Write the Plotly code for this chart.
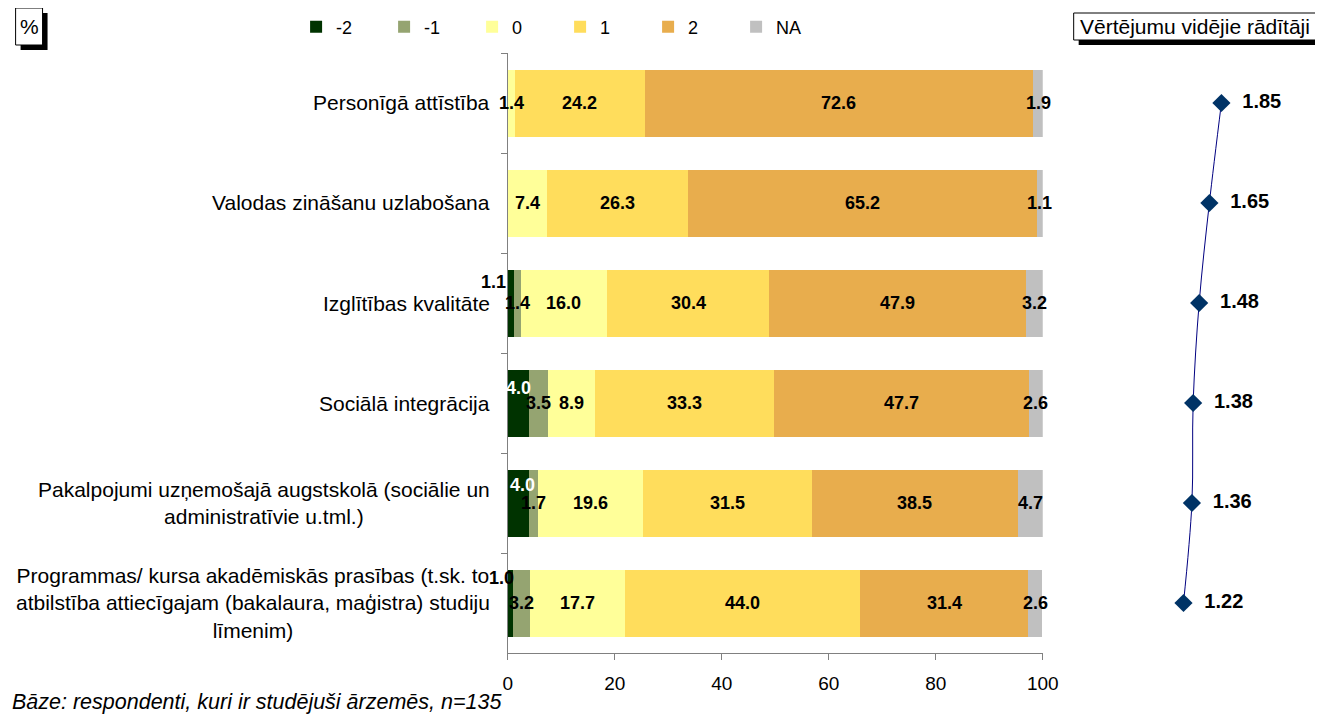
import plotly.graph_objects as go

# Layout helpers: target pixel positions (as seen in the 1323x714 picture) are converted to
# page positions (the capture compresses x slightly), then to paper fractions of the figure,
# which sits inside the page's default 8px body margin.
OFF = 8
SX, AX = 0.986, 3.5
W, H = 1330, 706


def px(t):
    return ((t - AX) / SX - OFF) / W


def py(t):
    return 1 - (t - OFF) / H


categories = [
    "Personīgā attīstība",
    "Valodas zināšanu uzlabošana",
    "Izglītības kvalitāte",
    "Sociālā integrācija",
    "Pakalpojumi uzņemošajā augstskolā (sociālie un<br>administratīvie u.tml.)",
    "Programmas/ kursa akadēmiskās prasības (t.sk. to<br>atbilstība attiecīgajam (bakalaura, maģistra) studiju<br>līmenim)",
]
series_names = ["-2", "-1", "0", "1", "2", "NA"]
v_m2 = [0.0, 0.0, 1.1, 4.0, 4.0, 1.0]
v_m1 = [0.0, 0.0, 1.4, 3.5, 1.7, 3.2]
v_0 = [1.4, 7.4, 16.0, 8.9, 19.6, 17.7]
v_1 = [24.2, 26.3, 30.4, 33.3, 31.5, 44.0]
v_2 = [72.6, 65.2, 47.9, 47.7, 38.5, 31.4]
v_na = [1.9, 1.1, 3.2, 2.6, 4.7, 2.6]
means = [1.85, 1.65, 1.48, 1.38, 1.36, 1.22]
x_ticks = [0, 20, 40, 60, 80, 100]

series_values = [v_m2, v_m1, v_0, v_1, v_2, v_na]
colors = ["#003300", "#95A471", "#FFFF99", "#FFDD5C", "#E8AD4D", "#C0C0C0"]

FONT = "Liberation Sans, Arial, sans-serif"

fig = go.Figure()
for name, vals, col in zip(series_names, series_values, colors):
    fig.add_trace(go.Bar(
        y=categories, x=vals, name=name, orientation="h",
        marker=dict(color=col, line=dict(width=0)),
        hoverinfo="x+name",
    ))

fig.add_trace(go.Scatter(
    x=means, y=categories, xaxis="x2", yaxis="y",
    mode="lines+markers+text",
    line=dict(color="#000080", width=1, shape="spline"),
    marker=dict(symbol="diamond", size=14, color="#003366"),
    text=[f"{m:.2f}" for m in means],
    textposition="middle right",
    textfont=dict(family=FONT, size=20, color="black", weight="bold"),
    texttemplate="  %{text}",
    showlegend=False, cliponaxis=False,
))

annotations = []
# special label offsets (row, series) -> (xshift, yshift, color)
special = {
    (2, 0): (-17, 21, "black"),
    (3, 0): (0, 15, "white"),
    (4, 0): (4, 18, "white"),
    (5, 0): (-9, 25, "black"),
}
for i, cat in enumerate(categories):
    cum = 0.0
    for j, vals in enumerate(series_values):
        v = vals[i]
        if v > 0:
            xs, ys, c = special.get((i, j), (0, 0, "black"))
            annotations.append(dict(
                x=cum + v / 2, y=cat, xref="x", yref="y",
                xanchor="center", yanchor="middle",
                text=f"{v:.1f}", showarrow=False,
                xshift=xs, yshift=ys,
                font=dict(family=FONT, size=18, color=c, weight="bold"),
            ))
        cum += v

# category labels (centered multi-line)
for cat in categories:
    annotations.append(dict(
        x=px(491), y=cat, xref="paper", yref="y",
        xanchor="right", yanchor="middle", align="center",
        text=cat, showarrow=False,
        font=dict(family=FONT, size=21, color="black"),
    ))

# box texts
annotations.append(dict(x=px(27.5), y=py(27), xref="paper", yref="paper",
                        xanchor="center", yanchor="middle",
                        text="%", showarrow=False,
                        font=dict(family=FONT, size=21, color="black")))
annotations.append(dict(x=px(1196), y=py(27), xref="paper", yref="paper",
                        xanchor="center", yanchor="middle",
                        text="Vērtējumu vidējie rādītāji", showarrow=False,
                        font=dict(family=FONT, size=21, color="black")))
annotations.append(dict(x=px(8), y=py(702), xref="paper", yref="paper",
                        xanchor="left", yanchor="middle",
                        text="<i>Bāze: respondenti, kuri ir studējuši ārzemēs, n=135</i>",
                        showarrow=False,
                        font=dict(family=FONT, size=21.5, color="black")))


def prect(x0, y0, x1, y1, fill, line_w):
    return dict(type="rect", xref="paper", yref="paper",
                x0=px(x0), x1=px(x1), y0=py(y1), y1=py(y0),
                fillcolor=fill, line=dict(color="black", width=line_w), layer="above")


shapes = [
    prect(19, 13, 46, 50, "black", 0),
    prect(14, 8, 41, 45, "white", 1),
    prect(1079, 18, 1323, 45, "black", 0),
    prect(1074, 13, 1319, 40, "white", 1),
]

fig.update_layout(
    width=W, height=H, autosize=False,
    barmode="stack", bargap=0.33,
    paper_bgcolor="white", plot_bgcolor="white",
    margin=dict(l=0, r=0, t=0, b=0),
    font=dict(family=FONT, size=17, color="black"),
    xaxis=dict(
        domain=[px(507), px(1043)], range=[0, 100],
        tickvals=x_ticks, ticks="outside", ticklen=6, tickcolor="#808080",
        showline=True, linecolor="#808080", linewidth=1,
        showgrid=False, zeroline=False, ticklabelstandoff=7,
        tickfont=dict(family=FONT, size=19, color="black"),
        anchor="y", fixedrange=True,
    ),
    xaxis2=dict(
        domain=[px(1100), px(1300)], range=[-0.173, 3.143],
        visible=False, anchor="y", fixedrange=True,
    ),
    yaxis=dict(
        domain=[py(653), py(53)],
        categoryorder="array", categoryarray=categories,
        range=[5.5, -0.5],
        showticklabels=False, ticks="outside", tickson="boundaries",
        ticklen=6, tickcolor="#808080",
        showline=True, linecolor="#808080", linewidth=1,
        showgrid=False, zeroline=False, fixedrange=True,
    ),
    legend=dict(
        orientation="h", x=px(295), xanchor="left",
        y=py(27), yanchor="middle",
        entrywidth=43, entrywidthmode="pixels",
        font=dict(family=FONT, size=18, color="black"),
        traceorder="normal", bgcolor="rgba(0,0,0,0)",
    ),
    annotations=annotations,
    shapes=shapes,
)

fig.write_html("out.html", config={"responsive": False})
